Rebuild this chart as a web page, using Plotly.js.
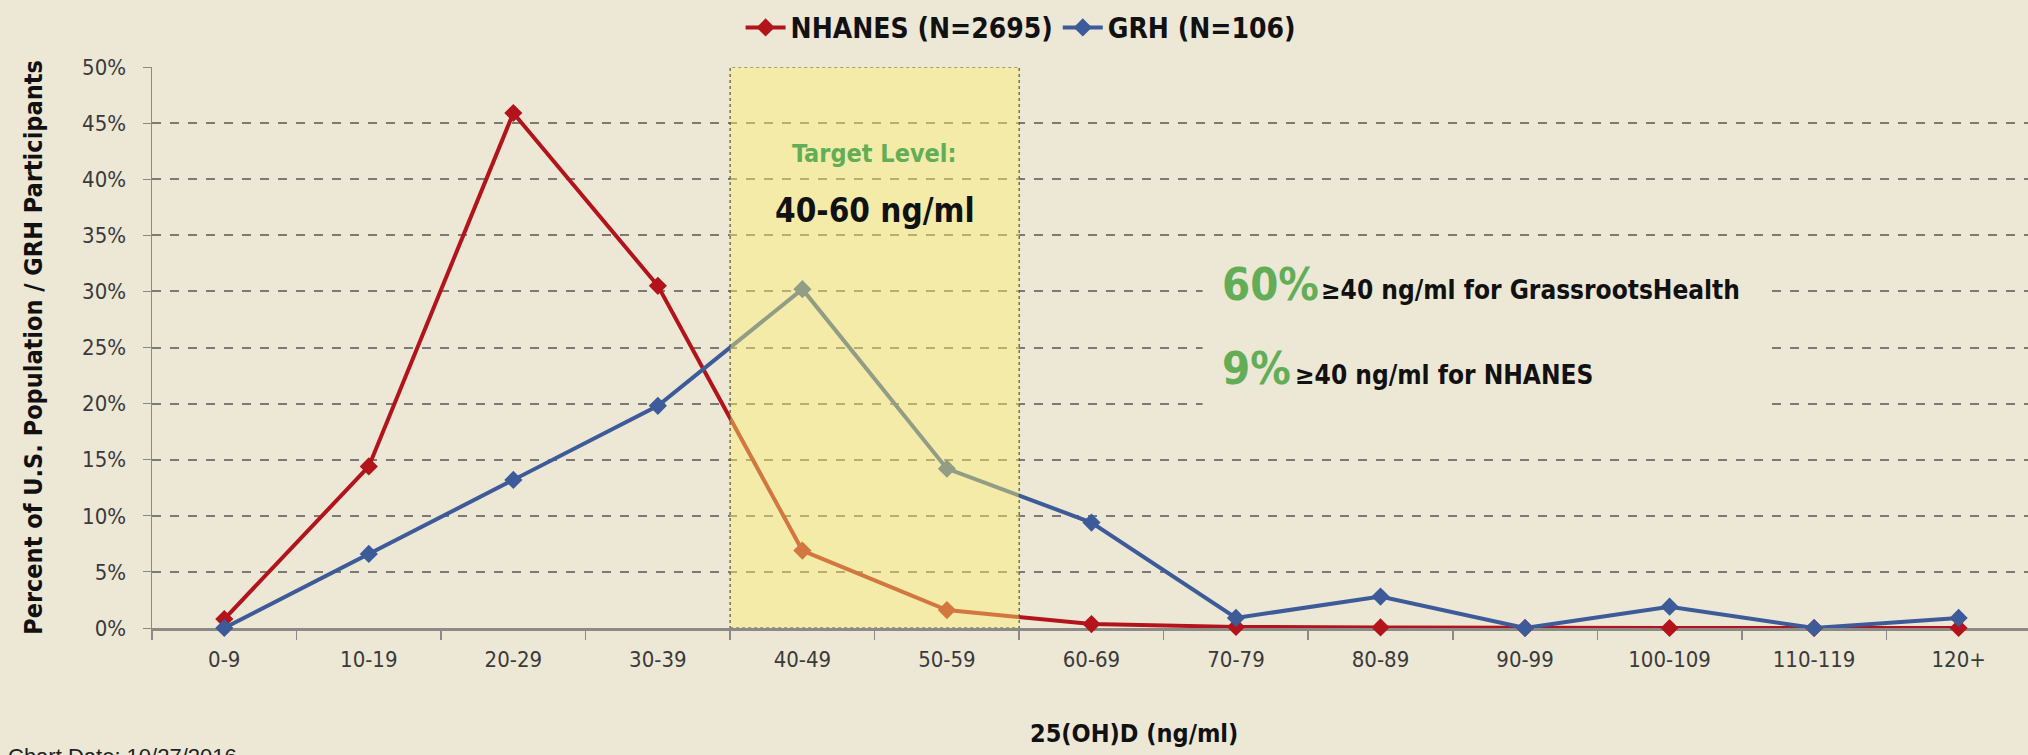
<!DOCTYPE html>
<html>
<head>
<meta charset="utf-8">
<script src="https://cdn.plot.ly/plotly-3.0.1.min.js"></script>
<style>
  html, body { margin: 0; padding: 0; background: #ede7d6; }
  #chart { width: 2028px; height: 755px; }
</style>
</head>
<body>
<div id="chart"></div>
<script>
// ---- data ----
const categories = ["0-9","10-19","20-29","30-39","40-49","50-59","60-69","70-79","80-89","90-99","100-109","110-119","120+"];
const nhanesValues = [0.8, 14.4, 45.9, 30.5, 6.9, 1.6, 0.35, 0.1, 0.05, 0, 0, 0, 0];
const grhValues = [0, 6.6, 13.2, 19.8, 30.2, 14.2, 9.4, 0.9, 2.8, 0, 1.9, 0, 0.9];
const nhanesName = "NHANES (N=2695)";
const grhName = "GRH (N=106)";
const targetBand = [3.5, 5.5];   // category-index edges of 40-49 .. 50-59

const BG = "#ede7d6";
const COND = "'Liberation Sans Narrow', 'Arial Narrow', 'DejaVu Sans Condensed', sans-serif";
const GREEN = "#63ad57";

const traces = [
  {
    type: "scatter", mode: "lines+markers", name: nhanesName,
    x: categories, y: nhanesValues, cliponaxis: false,
    line: { color: "#b3141c", width: 4 },
    marker: { symbol: "diamond", size: 14, color: "#b3141c" }
  },
  {
    type: "scatter", mode: "lines+markers", name: grhName,
    x: categories, y: grhValues, cliponaxis: false,
    line: { color: "#3d5a99", width: 4 },
    marker: { symbol: "diamond", size: 14, color: "#3d5a99" }
  }
];

const layout = {
  width: 2028, height: 755,
  paper_bgcolor: BG, plot_bgcolor: BG,
  margin: { l: 152, r: 0, t: 67, b: 127 },
  showlegend: true,
  legend: {
    orientation: "h", x: 0.463, xanchor: "center", y: 1.07, yanchor: "middle",
    font: { family: COND, size: 28, color: "#111", weight: "bold" },
    bgcolor: "rgba(0,0,0,0)", itemwidth: 40
  },
  xaxis: {
    type: "category",
    range: [-0.5, 12.48],
    layer: "below traces",
    showgrid: false, zeroline: false,
    showline: true, linecolor: "#8c8a86", linewidth: 3,
    ticks: "outside", ticklen: 9, tickwidth: 1.5, tickcolor: "#8c8a86",
    tickson: "boundaries",
    ticklabelstandoff: 10,
    tickfont: { family: COND, size: 22, color: "#3a3a3a" },
    title: { text: "" }
  },
  yaxis: {
    range: [0, 50], dtick: 5, ticksuffix: "%",
    layer: "below traces",
    showgrid: true, gridcolor: "#7c7a76", gridwidth: 2, griddash: "dash",
    zeroline: false,
    showline: true, linecolor: "#8c8a86", linewidth: 1.5,
    ticks: "outside", ticklen: 8, tickcolor: "#8c8a86",
    ticklabelstandoff: 12,
    tickfont: { family: COND, size: 22, color: "#3a3a3a" },
    title: {
      text: "<b>Percent of U.S. Population / GRH Participants</b>",
      font: { family: COND, size: 25, color: "#111" },
      standoff: 32
    }
  },
  shapes: [
    {
      type: "rect", xref: "x", yref: "y",
      x0: targetBand[0], x1: targetBand[1], y0: 0, y1: 50,
      fillcolor: "rgba(250,240,110,0.45)",
      line: { color: "#55524a", width: 1.2, dash: "dot" },
      layer: "above"
    },
    {
      type: "rect", xref: "paper", yref: "paper",
      x0: 0.560, x1: 0.862, y0: 0.35, y1: 0.66,
      fillcolor: BG, line: { width: 0 }, layer: "above"
    }
  ],
  annotations: [
    {
      xref: "x", yref: "paper", x: 4.5, y: (628 - 153) / 561, xanchor: "center", yanchor: "middle",
      text: "<b>Target Level:</b>", showarrow: false,
      font: { family: COND, size: 25, color: GREEN }
    },
    {
      xref: "x", yref: "paper", x: 4.5, y: (628 - 210) / 561, xanchor: "center", yanchor: "middle",
      text: "<b>40-60 ng/ml</b>", showarrow: false,
      font: { family: COND, size: 33, color: "#111" }
    },
    {
      xref: "paper", yref: "paper", x: (1220 - 152) / 1876, y: (628 - 284) / 561, xanchor: "left", yanchor: "middle",
      text: "<b>60%</b>", showarrow: false,
      font: { family: COND, size: 45, color: GREEN }
    },
    {
      xref: "paper", yref: "paper", x: (1319 - 152) / 1876, y: (628 - 290) / 561, xanchor: "left", yanchor: "middle",
      text: "<b>≥40 ng/ml for GrassrootsHealth</b>", showarrow: false,
      font: { family: COND, size: 26, color: "#111" }
    },
    {
      xref: "paper", yref: "paper", x: (1220 - 152) / 1876, y: (628 - 368) / 561, xanchor: "left", yanchor: "middle",
      text: "<b>9%</b>", showarrow: false,
      font: { family: COND, size: 45, color: GREEN }
    },
    {
      xref: "paper", yref: "paper", x: (1293 - 152) / 1876, y: (628 - 375) / 561, xanchor: "left", yanchor: "middle",
      text: "<b>≥40 ng/ml for NHANES</b>", showarrow: false,
      font: { family: COND, size: 26, color: "#111" }
    },
    {
      xref: "paper", yref: "paper", x: (1134 - 152) / 1876, y: (628 - 733) / 561, xanchor: "center", yanchor: "middle",
      text: "<b>25(OH)D (ng/ml)</b>", showarrow: false,
      font: { family: COND, size: 25, color: "#111" }
    },
    {
      xref: "paper", yref: "paper", x: (6 - 152) / 1876, y: (628 - 742) / 561, xanchor: "left", yanchor: "top",
      text: "Chart Date: 10/27/2016", showarrow: false,
      font: { family: "'Liberation Sans', 'Open Sans', sans-serif", size: 22, color: "#222" }
    }
  ]
};

Plotly.newPlot("chart", traces, layout, { displayModeBar: false, staticPlot: true });
</script>
</body>
</html>
